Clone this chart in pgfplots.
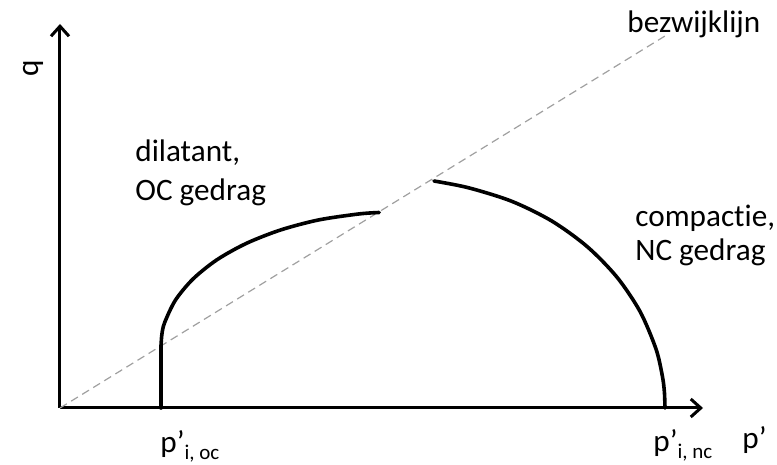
\documentclass[border=0pt]{standalone}
\usepackage{fontspec}
\setmainfont{Carlito}[Ligatures=NoCommon]
\usepackage{pgfplots}
\pgfplotsset{compat=1.18}
\usetikzlibrary{arrows.meta}
\definecolor{failgray}{HTML}{A0A0A0}
\tikzset{lbl/.style={font=\fontsize{15.6}{19.5}\selectfont, inner sep=0pt}}

\begin{document}
\begin{tikzpicture}
\begin{axis}[
  x=0.5pt, y=0.5pt,
  xmin=0, xmax=643, ymin=0, ymax=384,
  axis lines=left,
  axis line style={line width=1.5pt, -{Straight Barb[length=5pt,width=9pt]}},
  xtick=\empty, ytick=\empty,
  clip=false,
]
% bezwijklijn (failure line)
\addplot[failgray, line width=0.6pt, dash pattern=on 4pt off 2.5pt] coordinates {(0,0) (605,372)};
% OC path
\addplot[black, line width=1.8pt, line cap=round] coordinates {(101,0) (101,62)};
\addplot[black, line width=1.8pt, line cap=round, smooth] coordinates {
  (101,62) (101.9,73.7) (104.6,85.3) (115.4,107.8) (133.0,129.0) (156.9,148.2)
  (186.3,164.6) (220.5,178.0) (258.3,188.0) (298.5,194.0) (319.2,195.5)};
% NC path
\addplot[black, line width=1.8pt, line cap=round, smooth] coordinates {
  (374,227) (408.6,220.2) (452.0,206.6) (492.1,186.8) (527.4,161.2) (557.0,130.8)
  (580.1,96.4) (596.0,59.0) (602.4,31.7) (604.4,15.9) (605,0)};

\node[lbl, anchor=base west] at (axis cs:567,375) {bezwijklijn};
\node[lbl, anchor=base west] at (axis cs:75,246) {dilatant,};
\node[lbl, anchor=base west] at (axis cs:75,207) {OC gedrag};
\node[lbl, anchor=base west] at (axis cs:575,181) {compactie,};
\node[lbl, anchor=base west] at (axis cs:575,147) {NC gedrag};
\node[lbl, anchor=base west] at (axis cs:100,-45) {p’\raisebox{-3.5pt}{\fontsize{10.5}{12}\selectfont i, oc}};
\node[lbl, anchor=base west] at (axis cs:593,-44) {p’\raisebox{-3.5pt}{\fontsize{10.5}{12}\selectfont i, nc}};
\node[lbl, anchor=base west] at (axis cs:682,-41) {p’};
\node[lbl, rotate=90] at (axis cs:-27,340) {q};

\coordinate (bl) at (axis cs:-60,-57);
\coordinate (tr) at (axis cs:717,408);
\end{axis}
\pgfresetboundingbox
\path[use as bounding box] (bl) rectangle (tr);
\end{tikzpicture}
\end{document}
